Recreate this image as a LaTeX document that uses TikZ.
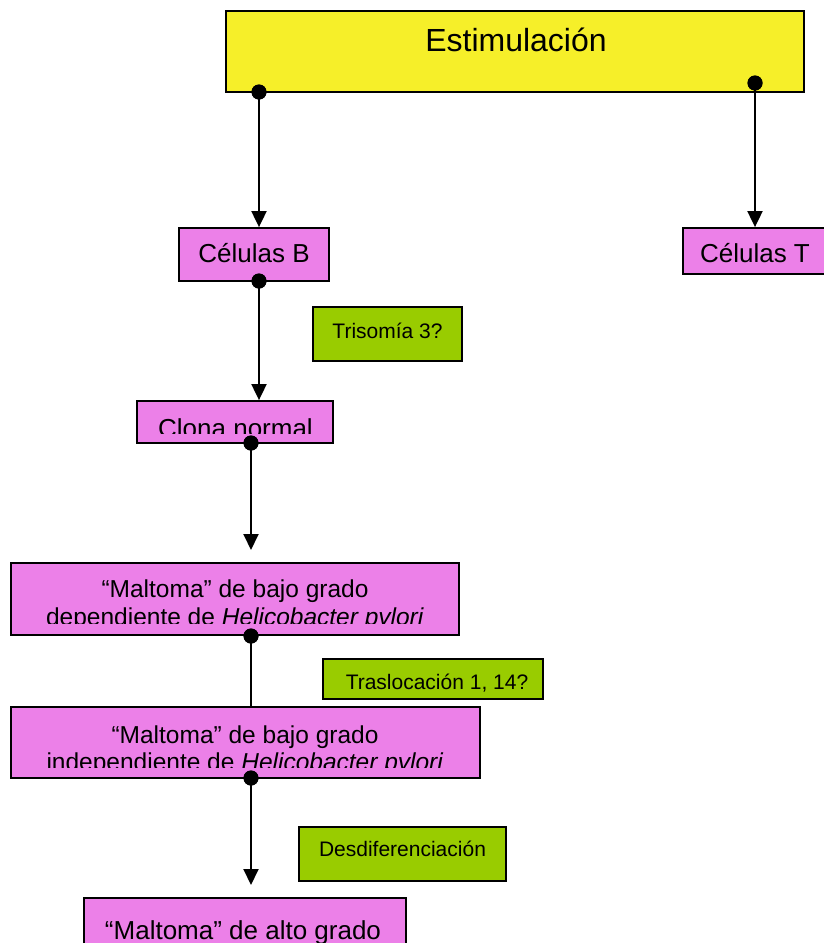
\documentclass[tikz,border=0pt]{standalone}
\usepackage{fontspec}
\setmainfont{Liberation Sans}
\usetikzlibrary{arrows.meta}
\definecolor{ybg}{RGB}{246,239,41}
\definecolor{pbg}{RGB}{236,128,232}
\definecolor{gbg}{RGB}{153,204,0}
\tikzset{
  boxbase/.style={draw=black, line width=1.8pt, rectangle, inner sep=0pt},
  ybox/.style={boxbase, fill=ybg},
  pbox/.style={boxbase, fill=pbg},
  gbox/.style={boxbase, fill=gbg},
  txt/.style={inner sep=0pt, anchor=base},
  big/.style={txt, font=\fontsize{32}{38}\selectfont},
  mid/.style={txt, font=\fontsize{26}{30}\selectfont},
  mal/.style={txt, font=\fontsize{24.5}{28}\selectfont},
  sml/.style={txt, font=\fontsize{21}{25}\selectfont},
  dot/.style={circle, fill=black, inner sep=0pt, minimum size=15pt},
  conn/.style={line width=1.9pt, draw=black},
  arr/.style={conn, -{Triangle[length=16pt,width=15pt]}}
}
\begin{document}
\begin{tikzpicture}[x=1pt,y=-1pt]
\useasboundingbox (0,0) rectangle (823,943);
% boxes
\node[ybox, minimum width=578pt, minimum height=81pt] (est) at (515,51.5) {};
\node[pbox, minimum width=150pt, minimum height=53pt] (cb) at (254,254.5) {};
\node[pbox, minimum width=145pt, minimum height=46pt] (ct) at (755.5,251) {};
\node[gbox, minimum width=149pt, minimum height=54pt] (tri) at (387.5,334) {};
\node[pbox, minimum width=196pt, minimum height=42pt] (clo) at (235,422) {};
\node[pbox, minimum width=448pt, minimum height=72pt] (m1) at (235,599) {};
\node[gbox, minimum width=220pt, minimum height=40pt] (tra) at (433,679) {};
\node[pbox, minimum width=469pt, minimum height=71pt] (m2) at (245.5,742.5) {};
\node[gbox, minimum width=207pt, minimum height=54pt] (des) at (402.5,854) {};
\node[pbox, minimum width=322pt, minimum height=62pt] (m3) at (245,929) {};
% texts
\node[big] (estT) at (516,51) {Estimulación};
\node[mid] (cbT) at (254,262) {Células B};
\node[mid] (ctT) at (755,262) {Células T};
\node[sml] (triT) at (387.5,338) {Trisomía 3?};
\node[sml] (traT) at (437,689) {Traslocación 1, 14?};
\node[sml] (desT) at (402.5,856) {Desdiferenciación};
\begin{scope}
  \clip (clo.north west) rectangle (333,433);
  \node[mid] (cloT) at (235.5,437) {Clona normal};
\end{scope}
\begin{scope}
  \clip (m1.north west) rectangle (459,623);
  \node[mal] (m1a) at (235,597) {“Maltoma” de bajo grado};
  \node[mal] (m1b) at (235,625) {dependiente de \textit{Helicobacter pylori}};
\end{scope}
\begin{scope}
  \clip (m2.north west) rectangle (480,767);
  \node[mal] (m2a) at (245,743) {“Maltoma” de bajo grado};
  \node[mal] (m2b) at (245,770) {independiente de \textit{Helicobacter pylori}};
\end{scope}
\begin{scope}
  \clip (m3.north west) rectangle (406,942);
  \node[mid] (m3a) at (243,939) {“Maltoma” de alto grado};
\end{scope}
% dots
\node[dot] (d1) at (259,92) {};
\node[dot] (d2) at (755,83) {};
\node[dot] (d3) at (259,281) {};
\node[dot] (d4) at (251,443) {};
\node[dot] (d5) at (251,636) {};
\node[dot] (d6) at (251,778) {};
\coordinate (e4) at (251,550);
\coordinate (e6) at (251,885);
% connectors
\draw[arr] (d1.center) -- (d1.center |- cb.north);
\draw[arr] (d2.center) -- (d2.center |- ct.north);
\draw[arr] (d3.center) -- (d3.center |- clo.north);
\draw[arr] (d4.center) -- (e4);
\draw[conn] (d5.center) -- (d5.center |- m2.north);
\draw[arr] (d6.center) -- (e6);
% redraw dots on top
\node[dot] at (d1) {};
\node[dot] at (d2) {};
\node[dot] at (d3) {};
\node[dot] at (d4) {};
\node[dot] at (d5) {};
\node[dot] at (d6) {};
\end{tikzpicture}
\end{document}
